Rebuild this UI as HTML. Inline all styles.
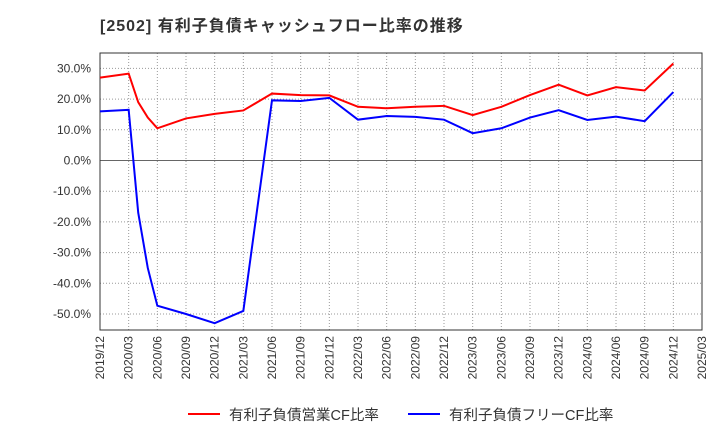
<!DOCTYPE html>
<html><head><meta charset="utf-8"><style>
body{margin:0;background:#fff;font-family:"Liberation Sans","Noto Sans CJK JP",sans-serif;}
</style></head><body>
<svg id="c" width="720" height="440" xmlns="http://www.w3.org/2000/svg">
<text x="100" y="31" font-size="16" letter-spacing="1" font-weight="bold" fill="#333">[2502]  有利子負債キャッシュフロー比率の推移</text>
<g id="grid"></g><g id="axes"></g><g id="series"></g>
<g>
<line x1="188" y1="414" x2="220" y2="414" stroke="#f00" stroke-width="2"/>
<text x="229" y="420" font-size="14.5" fill="#333">有利子負債営業CF比率</text>
<line x1="408" y1="414" x2="440" y2="414" stroke="#00f" stroke-width="2"/>
<text x="449" y="420" font-size="14.5" fill="#333">有利子負債フリーCF比率</text>
</g>
</svg>
<script>
const xMonths=[0,3,4,5,6,9,12,15,18,21,24,27,30,33,36,39,42,45,48,51,54,57,60];
const redVals=[27,28.3,19,14,10.5,13.7,15.2,16.3,21.8,21.3,21.2,17.5,17,17.5,17.8,14.8,17.5,21.3,24.7,21.2,23.9,22.8,31.6];
const blueVals=[16,16.5,-17,-35,-47.3,-50,-53,-49,19.6,19.4,20.4,13.3,14.5,14.2,13.3,8.9,10.5,14,16.4,13.2,14.3,12.8,22.3];
const yTicks=[30,20,10,0,-10,-20,-30,-40,-50];
const xLabels=["2019/12","2020/03","2020/06","2020/09","2020/12","2021/03","2021/06","2021/09","2021/12","2022/03","2022/06","2022/09","2022/12","2023/03","2023/06","2023/09","2023/12","2024/03","2024/06","2024/09","2024/12","2025/03"];
const L=100,R=702,T=53,B=330;
const X=m=>L+m*(R-L)/63;
const Y=v=>160.5-v*3.07;
const NS="http://www.w3.org/2000/svg";
function mk(p,t,a){const e=document.createElementNS(NS,t);for(const k in a)e.setAttribute(k,a[k]);p.appendChild(e);return e;}
const g=document.getElementById('grid'),ax=document.getElementById('axes'),s=document.getElementById('series');
yTicks.forEach(v=>{
 const l=mk(g,'line',{x1:L,x2:R,y1:Y(v),y2:Y(v),stroke:v===0?'#666':'#999','stroke-dasharray':v===0?'':'1,2','stroke-width':1});
 
 
 const t=mk(ax,'text',{x:91,y:Y(v)+4,'text-anchor':'end','font-size':12,fill:'#333'});
 t.textContent=v.toFixed(1)+'%';
 
 
});
xLabels.forEach((lab,i)=>{
 const x=X(i*3);
 const l=mk(g,'line',{x1:x,x2:x,y1:T,y2:B,stroke:'#999','stroke-dasharray':'1,2'});
 
 
 const t=mk(ax,'text',{x:0,y:0,'text-anchor':'end','font-size':12,fill:'#333',transform:`translate(${x+4},336) rotate(-90)`});
 t.textContent=lab;
 
 
});
const f=mk(ax,'rect',{x:L,y:T,width:R-L,height:B-T,fill:'none',stroke:'#333'});


function line(vals,col,name){
 const p=mk(s,'polyline',{points:vals.map((v,i)=>X(xMonths[i])+','+Y(v)).join(' '),fill:'none',stroke:col,'stroke-width':2});
 
 
}
line(redVals,'#f00','operating-cf-ratio-line');
line(blueVals,'#00f','free-cf-ratio-line');
</script>
</body></html>
